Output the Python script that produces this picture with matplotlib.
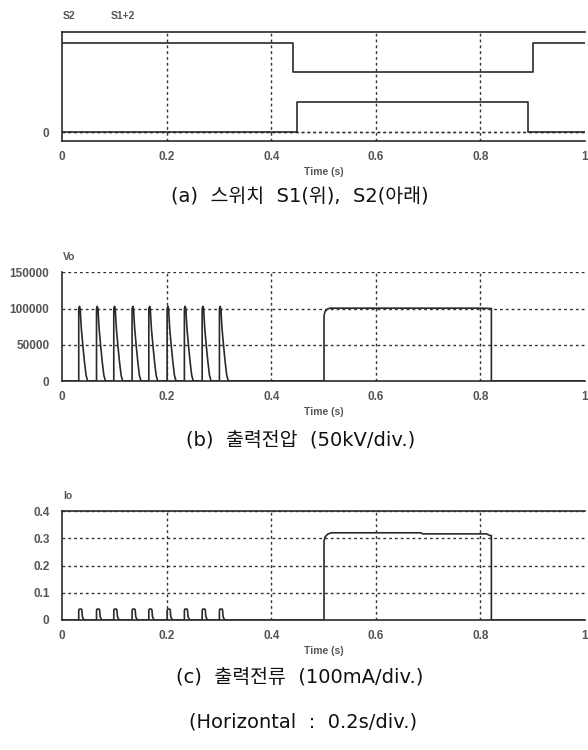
import numpy as np
import matplotlib
matplotlib.use("Agg")
import matplotlib.pyplot as plt

plt.rcParams['font.family'] = ['Liberation Sans', 'Noto Sans CJK KR', 'DejaVu Sans']

# (a) switch signals: S1+2 (upper trace, offset by 2) and S2 (lower trace)
s1_t = [0.0, 0.441, 0.441, 0.900, 0.900, 1.0]
s1_v = [3, 3, 2, 2, 3, 3]
s2_t = [0.0, 0.449, 0.449, 0.891, 0.891, 1.0]
s2_v = [0, 0, 1, 1, 0, 0]

# (b) output voltage: 9 short pulses, then one long pulse
pulse_starts = [0.032, 0.066, 0.099, 0.134, 0.166, 0.201, 0.234, 0.268, 0.301]
vo_shape_dt = [0.0, 0.0, 0.0015, 0.003, 0.0035, 0.005, 0.008, 0.011, 0.014, 0.017]
vo_shape_v = [0, 100000, 103000, 99000, 90000, 72000, 48000, 26000, 8000, 0]
vo_long_t = [0.0, 0.501, 0.501, 0.503, 0.507, 0.512, 0.80, 0.821, 0.821, 1.0]
vo_long_v = [0, 0, 90000, 96000, 99000, 100500, 100500, 100000, 0, 0]

# (c) output current
io_shape_dt = [0.0, 0.0, 0.001, 0.005, 0.006, 0.007, 0.009, 0.011]
io_shape_v = [0, 0.035, 0.040, 0.040, 0.036, 0.012, 0.004, 0.0]
io_long_t = [0.0, 0.501, 0.501, 0.503, 0.508, 0.515, 0.686, 0.69, 0.812, 0.818, 0.821, 0.821, 1.0]
io_long_v = [0, 0, 0.29, 0.305, 0.315, 0.320, 0.320, 0.316, 0.316, 0.31, 0.31, 0, 0]

line_c = '#2a2a2a'
grid_c = '#333333'
tick_c = '#555555'


def build(starts, dt, v, long_t, long_v):
    t, y = [], []
    for s in starts:
        t += [s + d for d in dt]
        y += list(v)
    t += list(long_t[1:])
    y += list(long_v[1:])
    return [0.0] + t, [0] + y


fig = plt.figure(figsize=(5.88, 7.5), dpi=100)
L, W = 62 / 588, 523 / 588


def setup(ax, ylim, yticks, yticklabels, top_solid=True):
    ax.set_xlim(0, 1.0)
    ax.set_ylim(*ylim)
    ax.set_xticks([0, 0.2, 0.4, 0.6, 0.8, 1.0])
    ax.set_xticklabels(['0', '0.2', '0.4', '0.6', '0.8', '1'])
    ax.set_yticks(yticks)
    ax.set_yticklabels(yticklabels)
    ax.tick_params(length=0, labelsize=8.5, colors=tick_c)
    ax.tick_params(axis='y', pad=9)
    ax.tick_params(axis='x', pad=7)
    for lab in ax.get_xticklabels() + ax.get_yticklabels():
        lab.set_fontweight('bold')
    ax.spines['right'].set_visible(False)
    ax.spines['top'].set_visible(top_solid)
    for sp in ['left', 'bottom', 'top']:
        ax.spines[sp].set_color(line_c)
        ax.spines[sp].set_linewidth(1.2)
    for x in [0.2, 0.4, 0.6, 0.8]:
        ax.axvline(x, color=grid_c, lw=1.0, ls=(0, (2, 2.2)), zorder=1)
    for y in yticks:
        if y != ylim[0]:
            ax.axhline(y, color=grid_c, lw=1.0, ls=(0, (2, 2.2)), zorder=1)
    ax.text(0.5, -0.285, 'Time (s)', transform=ax.transAxes, ha='center', va='center',
            fontsize=7.5, fontweight='bold', color=tick_c)


# panel (a)
ax1 = fig.add_axes([L, 1 - 141 / 750, W, 109.5 / 750])
ax1.plot(s1_t, s1_v, color=line_c, lw=1.2, zorder=3)
ax1.plot(s2_t, s2_v, color=line_c, lw=1.2, zorder=3)
setup(ax1, (-0.3, 3.37), [0], ['0'])
ax1.axhline(0, color=grid_c, lw=1.0, ls=(0, (2, 2.2)), zorder=1)
fig.text(63 / 588, 1 - 16 / 750, 'S2', fontsize=7.5, fontweight='bold', color=tick_c, va='center')
fig.text(111 / 588, 1 - 16 / 750, 'S1+2', fontsize=7.5, fontweight='bold', color=tick_c, va='center')

# panel (b)
ax2 = fig.add_axes([L, 1 - 381 / 750, W, 108.7 / 750])
vt, vv = build(pulse_starts, vo_shape_dt, vo_shape_v, vo_long_t, vo_long_v)
ax2.plot(vt, vv, color=line_c, lw=1.2, zorder=3)
setup(ax2, (0, 150000), [0, 50000, 100000, 150000], ['0', '50000', '100000', '150000'], top_solid=False)
fig.text(63 / 588, 1 - 257 / 750, 'Vo', fontsize=7.5, fontweight='bold', color=tick_c, va='center')

# panel (c)
ax3 = fig.add_axes([L, 1 - 620 / 750, W, 109 / 750])
it, iv = build(pulse_starts, io_shape_dt, io_shape_v, io_long_t, io_long_v)
ax3.plot(it, iv, color=line_c, lw=1.2, zorder=3)
setup(ax3, (0, 0.4), [0, 0.1, 0.2, 0.3, 0.4], ['0', '0.1', '0.2', '0.3', '0.4'])
fig.text(63 / 588, 1 - 496 / 750, 'Io', fontsize=7.5, fontweight='bold', color=tick_c, va='center')

cap_font = ['DejaVu Sans', 'Noto Sans CJK KR']
cap_kw = dict(ha='center', va='center', fontsize=14, family=cap_font, color='#111111')
fig.text(300 / 588, 1 - 196 / 750, '(a)  스위치  S1(위),  S2(아래)', **cap_kw)
fig.text(301 / 588, 1 - 440 / 750, '(b)  출력전압  (50kV/div.)', **cap_kw)
fig.text(300 / 588, 1 - 677 / 750, '(c)  출력전류  (100mA/div.)', **cap_kw)
fig.text(303 / 588, 1 - 722 / 750, '(Horizontal  :  0.2s/div.)', **cap_kw)

fig.savefig('out.png', dpi=100, facecolor='white')
